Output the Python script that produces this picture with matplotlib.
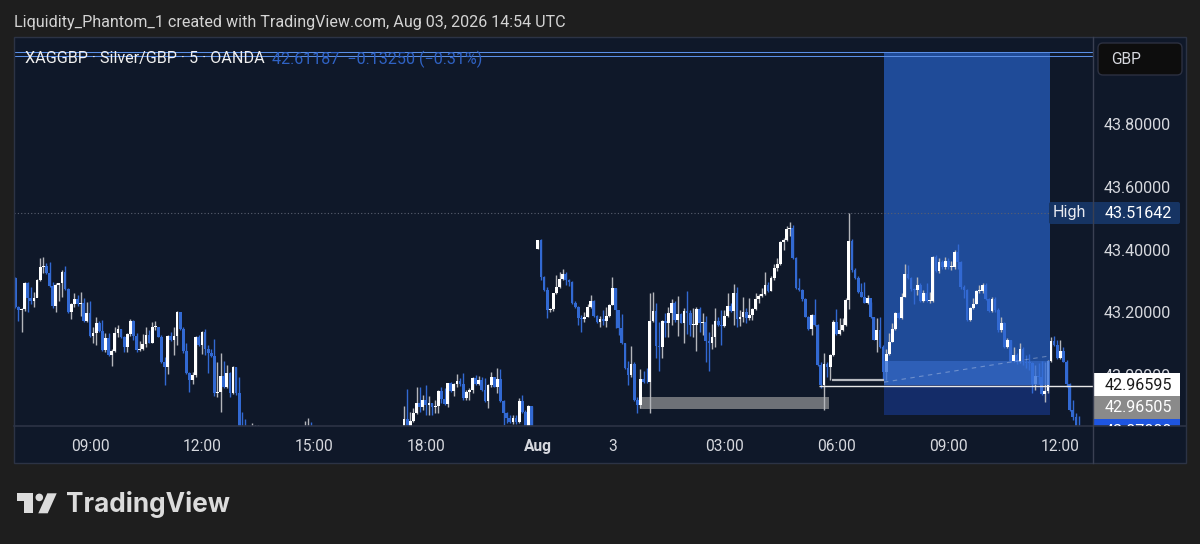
import matplotlib
matplotlib.use('Agg')
import matplotlib.pyplot as plt
from matplotlib.patches import Rectangle, FancyBboxPatch, Polygon, Circle

plt.rcParams['font.family'] = ['Roboto', 'DejaVu Sans']

# 5 minute candles, open of each bar is the close of the one before
# first stretch on the left
start_a = 0
open_a = 43.309
closes_a = [43.218,43.207,43.211,43.295,43.245,43.237,43.247,43.303,43.346,43.348,
            43.325,43.284,43.220,43.287,43.293,43.330,43.273,43.202,43.227,43.241,
            43.227,43.231,43.173,43.199,43.124,43.133,43.167,43.141,43.080,43.117,
            43.064,43.077,43.135,43.146,43.120,43.090,43.131,43.173,43.124,43.080,
            43.082,43.099,43.126,43.103,43.152,43.152,43.122,43.042,43.024,43.124,
            43.111,43.124,43.202,43.146,43.077,43.005,42.984,43.000,43.122,43.096,
            43.138,43.082,43.071,43.060,42.941,42.946,42.997,42.960,43.005,42.941,
            43.024,42.941,42.835,42.803,42.781]
highs_a = [43.314,43.220,43.213,43.298,43.298,43.282,43.266,43.306,43.372,43.376,
           43.357,43.360,43.298,43.293,43.295,43.335,43.348,43.277,43.231,43.261,
           43.255,43.266,43.247,43.234,43.236,43.152,43.184,43.173,43.175,43.133,
           43.133,43.082,43.154,43.159,43.148,43.124,43.133,43.178,43.175,43.133,
           43.109,43.131,43.154,43.143,43.170,43.173,43.154,43.128,43.058,43.128,
           43.138,43.154,43.205,43.202,43.152,43.101,43.010,43.010,43.124,43.128,
           43.141,43.147,43.096,43.082,43.114,43.042,43.071,43.045,43.032,43.010,
           43.028,43.026,42.994,42.883,42.858]
lows_a = [43.213,43.173,43.138,43.205,43.202,43.227,43.216,43.248,43.301,43.325,
          43.322,43.282,43.213,43.202,43.237,43.250,43.271,43.199,43.178,43.216,
          43.220,43.188,43.170,43.170,43.122,43.101,43.096,43.138,43.077,43.074,
          43.060,43.028,43.074,43.122,43.117,43.074,43.074,43.124,43.111,43.074,
          43.077,43.080,43.090,43.101,43.101,43.143,43.120,43.037,42.968,43.003,
          43.109,43.064,43.096,43.143,43.071,43.003,42.946,42.971,42.994,43.092,
          43.067,43.064,43.007,43.056,42.934,42.930,42.883,42.958,42.957,42.930,
          42.939,42.936,42.835,42.781,42.760]

# only the wick tips show above the pane bottom here
start_b = 76
open_b = 42.77
closes_b = [42.78,42.79,42.80]
highs_b = [42.847,42.840,42.840]
lows_b = [42.76,42.77,42.78]

start_c = 93
open_c = 42.79
closes_c = [42.80,42.81,42.80]
highs_c = [42.854,42.864,42.851]
lows_c = [42.78,42.79,42.78]

# bump before the weekend
start_d = 125
open_d = 42.824
closes_d = [42.859,42.835,42.854,42.877,42.909,42.899,42.920,42.904,42.909,42.899,
            42.901,42.949,42.922,42.907,42.973,42.950,42.971,42.982,42.971,42.925,
            42.944,42.952,42.989,42.971,42.984,42.952,42.918,42.968,42.992,42.962,
            42.987,42.918,42.879,42.864,42.851,42.864,42.851,42.918,42.883,42.838,
            42.901,42.835]
highs_d = [42.902,42.954,42.883,42.893,42.960,42.962,42.936,42.968,42.934,42.911,
           42.920,42.952,42.962,42.957,42.975,42.978,42.975,43.003,42.989,43.007,
           42.952,42.957,42.992,43.000,42.997,42.992,42.989,42.971,43.010,42.994,
           43.021,43.018,42.920,42.883,42.872,42.872,42.872,42.925,42.936,42.888,
           42.904,42.901]
lows_d = [42.824,42.824,42.835,42.851,42.875,42.883,42.888,42.872,42.872,42.872,
          42.877,42.879,42.909,42.904,42.899,42.946,42.933,42.962,42.965,42.920,
          42.920,42.920,42.941,42.968,42.968,42.950,42.915,42.893,42.962,42.960,
          42.941,42.915,42.840,42.847,42.845,42.843,42.843,42.845,42.877,42.835,
          42.835,42.824]

# from the reopen to the right edge
start_e = 168
open_e = 43.401
closes_e = [43.431,43.314,43.271,43.207,43.210,43.261,43.280,43.305,43.322,43.303,
            43.298,43.229,43.218,43.181,43.178,43.186,43.216,43.235,43.188,43.170,
            43.178,43.173,43.188,43.223,43.277,43.207,43.149,43.101,43.021,43.000,
            43.035,42.920,42.904,42.987,42.979,42.976,43.173,43.205,43.092,43.088,
            43.173,43.167,43.197,43.231,43.176,43.195,43.167,43.204,43.197,43.160,
            43.160,43.211,43.165,43.168,43.108,43.101,43.120,43.172,43.160,43.156,
            43.188,43.221,43.205,43.261,43.178,43.184,43.202,43.181,43.192,43.210,
            43.242,43.252,43.259,43.288,43.269,43.310,43.340,43.353,43.424,43.431,
            43.466,43.468,43.373,43.277,43.271,43.242,43.186,43.146,43.190,43.160,
            43.032,42.968,43.035,43.026,43.064,43.170,43.131,43.144,43.160,43.239,
            43.429,43.335,43.309,43.266,43.250,43.231,43.245,43.184,43.112,43.144,
            43.088,43.010,43.067,43.106,43.146,43.197,
            43.181,43.250,43.322,43.309,43.273,43.271,43.287,43.236,43.261,43.237,
            43.237,43.376,43.333,43.360,43.344,43.365,43.344,43.344,43.394,43.362,
            43.280,43.271,43.175,43.213,43.227,43.268,43.268,43.286,43.241,43.205,
            43.243,43.207,43.143,43.165,43.088,43.111,43.046,43.063,43.042,43.084,
            43.042,43.039,43.037,42.971,42.998,42.994,42.939,42.950,43.046,43.109,
            43.096,43.053,43.077,43.042,42.971,42.888,42.867,42.824,42.803]
highs_e = [43.431,43.433,43.316,43.280,43.213,43.263,43.319,43.330,43.337,43.330,
           43.305,43.301,43.237,43.220,43.191,43.202,43.227,43.255,43.239,43.191,
           43.188,43.207,43.218,43.227,43.314,43.277,43.186,43.195,43.103,43.046,
           43.092,43.042,42.931,43.018,43.014,43.021,43.263,43.265,43.231,43.170,
           43.176,43.197,43.218,43.242,43.237,43.252,43.197,43.213,43.269,43.207,
           43.213,43.216,43.218,43.197,43.188,43.138,43.163,43.213,43.186,43.207,
           43.207,43.261,43.229,43.291,43.280,43.207,43.248,43.213,43.245,43.213,
           43.263,43.259,43.277,43.328,43.298,43.316,43.354,43.373,43.429,43.436,
           43.474,43.488,43.479,43.378,43.309,43.274,43.245,43.188,43.195,43.242,
           43.163,43.042,43.069,43.042,43.067,43.176,43.210,43.181,43.181,43.245,
           43.516,43.433,43.341,43.316,43.295,43.298,43.255,43.234,43.186,43.181,
           43.184,43.096,43.082,43.135,43.165,43.202,
           43.202,43.261,43.354,43.351,43.314,43.277,43.314,43.295,43.271,43.293,
           43.266,43.380,43.383,43.372,43.367,43.378,43.372,43.365,43.399,43.418,
           43.365,43.287,43.273,43.216,43.245,43.271,43.287,43.295,43.293,43.245,
           43.250,43.250,43.213,43.184,43.170,43.117,43.111,43.090,43.069,43.101,
           43.090,43.064,43.067,43.042,43.032,43.039,43.046,43.042,43.048,43.120,
           43.124,43.111,43.111,43.088,43.048,42.975,42.920,42.877,42.869]
lows_e = [43.401,43.303,43.269,43.181,43.202,43.205,43.259,43.277,43.303,43.287,
          43.284,43.227,43.213,43.159,43.138,43.170,43.184,43.213,43.184,43.165,
          43.152,43.160,43.154,43.186,43.223,43.149,43.128,43.099,43.018,42.968,
          42.995,42.918,42.877,42.893,42.975,42.973,42.879,43.170,43.053,43.014,
          43.053,43.122,43.122,43.160,43.170,43.124,43.165,43.101,43.131,43.124,
          43.120,43.078,43.138,43.128,43.042,43.014,43.082,43.088,43.156,43.096,
          43.154,43.186,43.202,43.160,43.154,43.156,43.170,43.165,43.176,43.176,
          43.207,43.229,43.248,43.255,43.266,43.268,43.303,43.333,43.351,43.399,
          43.429,43.444,43.369,43.274,43.269,43.237,43.184,43.144,43.128,43.156,
          43.029,42.957,42.888,42.995,42.984,43.061,43.128,43.128,43.141,43.156,
          43.210,43.330,43.305,43.263,43.248,43.229,43.227,43.181,43.110,43.074,
          43.085,42.984,42.984,43.064,43.104,43.144,
          43.178,43.178,43.250,43.305,43.269,43.227,43.255,43.234,43.234,43.234,
          43.231,43.234,43.330,43.325,43.337,43.337,43.337,43.335,43.337,43.337,
          43.273,43.245,43.173,43.173,43.210,43.227,43.261,43.261,43.239,43.202,
          43.202,43.202,43.138,43.138,43.085,43.085,43.042,43.042,43.035,43.037,
          43.032,43.021,43.016,42.941,42.952,42.971,42.936,42.915,42.941,43.042,
          43.092,43.050,43.050,43.040,42.962,42.886,42.856,42.803,42.781]

tick_bars = [24,60,96,132,168,192,228,264,300,336]
tick_names = ['09:00','12:00','15:00','18:00','Aug','3','03:00','06:00','09:00','12:00']
price_ticks = [43.0,43.2,43.4,43.6,43.8]

BG = '#1e1e1e'
PANE = '#0f1829'
SEP = '#2c3345'
UP = '#ffffff'
UP_WICK = '#b4b6bb'
DOWN = '#3269d2'
TXT = '#d6d8de'

W, H = 1200, 544
fig = plt.figure(figsize=(W/100, H/100), dpi=100, facecolor=BG)

# whole chart panel behind the axes
fig.patches.append(Rectangle((14/W, 1-463/H), (1186-14)/W, (463-37)/H, transform=fig.transFigure,
                             facecolor=PANE, edgecolor='none', zorder=-1))

ax = fig.add_axes([14/W, 1-426/H, (1093-14)/W, (426-37)/H], facecolor=PANE)
ax.set_xlim(-0.418, 346.5)
ax.set_ylim(42.837, 44.079)
for s in ax.spines.values():
    s.set_visible(False)

# long position tool
ax.add_patch(Rectangle((279.3,43.045), 53.4, 0.987, facecolor='#1f4b98', edgecolor='none', zorder=1))
ax.add_patch(Rectangle((279.3,42.872), 53.4, 0.096, facecolor='#142c68', edgecolor='none', zorder=1))

# liquidity box
ax.add_patch(Rectangle((200.9,42.891), 60.7, 0.039, facecolor='#6e7177', edgecolor='none', zorder=1))

ax.hlines(43.51642, -0.418, 332.7, colors='#5a6070', linestyles=(0,(1,2)), lw=0.8, zorder=1.5)


def draw_candles(start, first_open, closes, highs, lows):
    prev = first_open
    for i, (c, h, l) in enumerate(zip(closes, highs, lows, strict=True)):
        x = start + i
        up = c >= prev
        ax.vlines(x, l, h, colors=UP_WICK if up else DOWN, lw=1.0, zorder=3)
        ax.bar(x, max(abs(c-prev), 0.003), bottom=min(c, prev), width=0.88,
               color=UP if up else DOWN, linewidth=0, zorder=3.2)
        prev = c


draw_candles(start_a, open_a, closes_a, highs_a, lows_a)
draw_candles(start_b, open_b, closes_b, highs_b, lows_b)
draw_candles(start_c, open_c, closes_c, highs_c, lows_c)
draw_candles(start_d, open_d, closes_d, highs_d, lows_d)
draw_candles(start_e, open_e, closes_e, highs_e, lows_e)

# entry band sits over the candles
ax.add_patch(Rectangle((279.3,42.968), 53.4, 0.077, facecolor='#3670d8', alpha=0.82, edgecolor='none', zorder=4))
ax.plot([279.3,332], [42.977,43.06], color='#ffffff', alpha=0.3, lw=0.8, ls=(0,(4,4)), zorder=4.5)

# horizontal levels
ax.hlines([44.032,44.019], -0.418, 346.5, colors='#5a8fe6', lw=0.75, zorder=5)
ax.hlines(42.96595, 258.4, 346.5, colors='#e8e8e8', lw=1.0, zorder=5)
ax.hlines(42.984, 262.6, 279.3, colors='#b8bac0', lw=1.6, zorder=5)

ax.set_xticks(tick_bars)
ax.set_xticklabels(tick_names, fontsize=11.2, color=TXT)
ax.get_xticklabels()[4].set_fontweight('bold')
ax.set_yticks(price_ticks)
ax.set_yticklabels(['%.5f' % p for p in price_ticks], fontsize=11.6, color=TXT)
ax.yaxis.tick_right()
ax.tick_params(axis='both', length=0)
ax.tick_params(axis='x', pad=9.7)
ax.tick_params(axis='y', pad=8)

# chrome on top, in pixel coordinates
top = fig.add_axes([0, 0, 1, 1], facecolor='none', zorder=10)
top.set_xlim(0, W)
top.set_ylim(H, 0)
top.axis('off')

top.plot([14,1186], [426,426], color=SEP, lw=1.2)
top.plot([1093,1093], [37,463], color='#3a4052', lw=1.0)
top.add_patch(Rectangle((14,37), 1172, 426, facecolor='none', edgecolor=SEP, lw=1.0))

top.text(14, 22, 'Liquidity_Phantom_1 created with TradingView.com, Aug 03, 2026 14:54 UTC',
         fontsize=11.6, color='#d4d4d4', va='center', ha='left')
top.text(25, 59, 'XAGGBP · Silver/GBP · 5 · OANDA', fontsize=11.6, color='#f0f0f0', va='center', ha='left')
top.text(272, 59, '42.61187  −0.13250 (−0.31%)', fontsize=11.6, color='#2f62c4', va='center', ha='left')

# GBP button
top.add_patch(FancyBboxPatch((1098,43), 84, 32, boxstyle='round,pad=0,rounding_size=5',
                             facecolor='#0d0d0d', edgecolor='#2c3040', lw=1.0))
top.text(1111, 60, 'GBP', fontsize=11.2, color=TXT, va='center', ha='left')

# High label
top.add_patch(FancyBboxPatch((1049,202), 131, 22, boxstyle='round,pad=0,rounding_size=2',
                             facecolor='#163463', edgecolor='none'))
top.text(1069, 213, 'High', fontsize=11.6, color='#e8eaf0', va='center', ha='center')
top.text(1138, 213, '43.51642', fontsize=11.6, color='#ffffff', va='center', ha='center')

# last price labels
top.add_patch(Rectangle((1093,373), 87, 23, facecolor='#ffffff', edgecolor='none'))
top.text(1138, 385, '42.96595', fontsize=11.6, color='#1a1a1a', va='center', ha='center')
top.add_patch(Rectangle((1093,396), 87, 23, facecolor='#8a8a8a', edgecolor='none'))
top.text(1138, 408, '42.96505', fontsize=11.6, color='#ffffff', va='center', ha='center')
top.add_patch(Rectangle((1093,419), 87, 7, facecolor='#1e55e0', edgecolor='none'))
clip = Rectangle((1093,419), 87, 7, transform=top.transData)
cut = top.text(1138, 431, '42.87000', fontsize=11.6, color='#ffffff', va='center', ha='center', clip_on=True)
cut.set_clip_path(clip)

# TradingView logo
LOGO = '#dcdcdc'
top.add_patch(Polygon([(16.7,493.3),(32.7,493.3),(32.7,513.3),(24,513.3),(24,501),(16.7,501)], facecolor=LOGO, edgecolor='none'))
top.add_patch(Circle((39.3,497.4), 3.8, facecolor=LOGO, edgecolor='none'))
top.add_patch(Polygon([(47.3,493.3),(56.7,493.3),(47.7,513.3),(38.3,513.3)], facecolor=LOGO, edgecolor='none'))
top.text(66, 504, 'TradingView', fontsize=18.8, fontweight='bold', family=['Inter', 'DejaVu Sans'], color=LOGO, va='center', ha='left')

fig.savefig('out.png', dpi=100, facecolor=BG)
